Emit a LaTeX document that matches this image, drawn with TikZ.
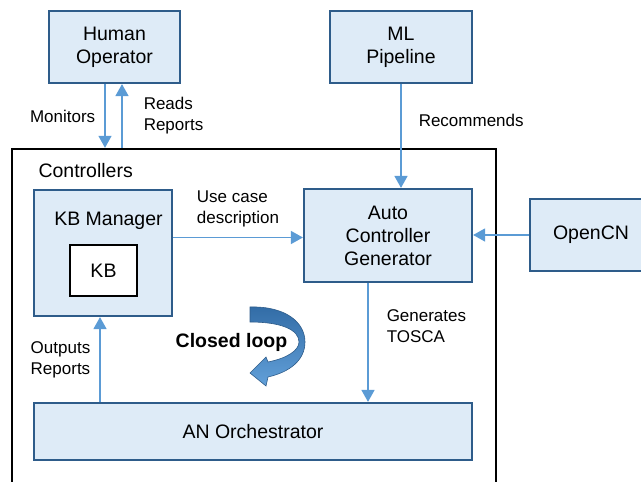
\documentclass[tikz,border=0pt]{standalone}
\usepackage{fontspec}
\setmainfont{Liberation Sans}
\usetikzlibrary{arrows.meta, positioning, calc}
\definecolor{boxfill}{RGB}{222,235,247}
\definecolor{boxline}{RGB}{46,92,138}
\definecolor{arrowblue}{RGB}{91,155,213}
\definecolor{loopdark}{RGB}{50,108,166}
\definecolor{looplight}{RGB}{98,160,217}
\tikzstyle{box} = [rectangle, draw = boxline, line width=2.2pt, fill = boxfill, text centered, align=center, font=\fontsize{19.5}{23}\selectfont]
\tikzstyle{kbbox} = [rectangle, draw = black, line width=2.4pt, fill = white, text centered, font=\fontsize{19.5}{23}\selectfont]
\tikzstyle{frame} = [rectangle, draw = black, line width=2.4pt]
\tikzstyle{title} = [font=\fontsize{19.5}{23}\selectfont]
\tikzstyle{lbl} = [align=left, inner sep=1pt, font=\fontsize{17}{21}\selectfont]
\tikzstyle{arrow} = [-{Triangle[length=12pt,width=13pt]}, draw = arrowblue, line width=1.5pt]

\begin{document}
\begin{tikzpicture}[x=1pt, y=-1pt]
	\useasboundingbox (0,0) rectangle (641,482);
	\clip (0,0) rectangle (641,482);
	%boxes
	\node (ctrl) [frame, minimum width=484pt, minimum height=360pt] at (254,329) {};
	\node (ctrltitle) [title, anchor=base west] at (35,177) {Controllers};
	\node (human) [box, minimum width=131pt, minimum height=72pt] at (114.5,47) {Human\\Operator};
	\node (ml) [box, minimum width=142pt, minimum height=72pt] at (401,47) {ML\\Pipeline};
	\node (kbm) [box, minimum width=138pt, minimum height=126pt] at (103,253) {};
	\node (kbmtitle) [title, anchor=base] at (108.5,225) {KB Manager};
	\node (kb) [kbbox, minimum width=67pt, minimum height=51pt] at (103.5,270.5) {KB};
	\node (acg) [box, minimum width=168pt, minimum height=93pt] at (388,235.5) {Auto\\Controller\\Generator};
	\node (opencn) [box, minimum width=122pt, minimum height=72pt] at (591,235) {OpenCN};
	\node (anorch) [box, minimum width=438pt, minimum height=57pt] at (253,431.5) {AN Orchestrator};
	\draw [arrow]($(human.south)+(-9.5,0)$) -- node[lbl, left=8pt](monlbl){Monitors} ($(human.south |- ctrl.north)+(-9.5,0)$);
	\draw [arrow]($(human.south |- ctrl.north)+(7.5,0)$) -- node[lbl, right=20pt](readlbl){Reads\\Reports} ($(human.south)+(7.5,0)$);
	\draw [arrow](ml.south) -- node[lbl, pos=0.35, right=16pt](reclbl){Recommends} (ml.south |- acg.north);
	\draw [arrow]($(kbm.east |- acg.west)+(0,2)$) -- node[lbl, above=9pt](uselbl){Use case\\description} ($(acg.west)+(0,2)$);
	\draw [arrow](opencn.west) -- (opencn.west -| acg.east);
	\draw [arrow]($(acg.south)+(-20,0)$) -- node[lbl, pos=0.36, right=17pt](genlbl){Generates\\TOSCA} ($(acg.south |- anorch.north)+(-20,0)$);
	\draw [arrow]($(kbm.south |- anorch.north)+(-3,0)$) -- node[lbl, left=8pt](outlbl){Outputs\\Reports} ($(kbm.south)+(-3,0)$);
	\node (looplbl) [title, anchor=base, font=\fontsize{19.5}{23}\selectfont\bfseries] at (231.5,347) {Closed loop};
	\draw [boxline, line width=0.6pt, top color=loopdark, bottom color=looplight]
		(250,307) .. controls (285,306) and (305,322) .. (305,342)
		.. controls (305,360) and (290,372) .. (268,377)
		-- (266,386) -- (250,373) -- (266,357) -- (268,362)
		.. controls (288,358) and (299,350) .. (299,342)
		.. controls (299,330) and (282,322) .. (250,322) -- cycle;
\end{tikzpicture}
\end{document}
